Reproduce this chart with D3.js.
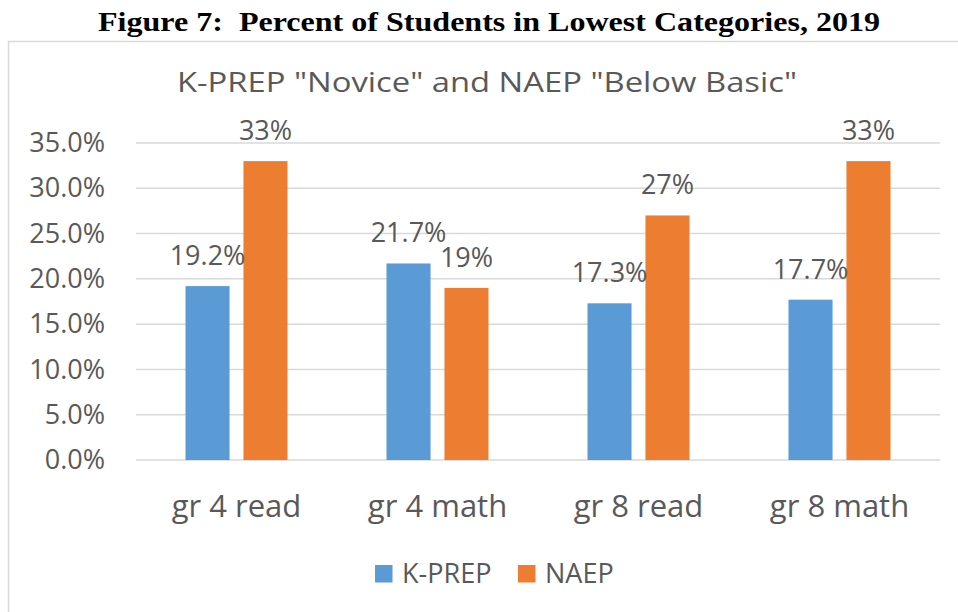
<!DOCTYPE html>
<html>
<head>
<meta charset="utf-8">
<script src="https://cdn.jsdelivr.net/npm/d3@7"></script>
<style>
  body { margin: 0; background: #fff; }
  svg text { font-family: "Open Sans", sans-serif; fill: #595959; }
</style>
</head>
<body>
<div id="chart"></div>
<script>
const categories = ["gr 4 read", "gr 4 math", "gr 8 read", "gr 8 math"];
const seriesNames = ["K-PREP", "NAEP"];
const kprep = [19.2, 21.7, 17.3, 17.7];
const naep = [33, 19, 27, 33];
const kprepLabels = ["19.2%", "21.7%", "17.3%", "17.7%"];
const naepLabels = ["33%", "19%", "27%", "33%"];
const yTicks = [0, 5, 10, 15, 20, 25, 30, 35];

const colors = { "K-PREP": "#5b9bd5", "NAEP": "#ed7d31" };

const width = 958, height = 612;
const margin = { top: 143, right: 18, bottom: 152, left: 136 };
const w = width - margin.left - margin.right;
const h = height - margin.top - margin.bottom;

const svg = d3.select("#chart").append("svg")
  .attr("width", width)
  .attr("height", height);

// outer frame of the chart object
svg.append("rect")
  .attr("x", 8.5).attr("y", 41.5)
  .attr("width", 1000).attr("height", 700)
  .attr("fill", "none")
  .attr("stroke", "#d9d9d9")
  .attr("stroke-width", 1.5);

// figure caption (the source picture is a bit stretched sideways)
svg.append("text")
  .attr("x", 98).attr("y", 31)
  .attr("textLength", 782)
  .attr("lengthAdjust", "spacingAndGlyphs")
  .style("white-space", "pre")
  .style("font-family", "'Liberation Serif', 'Times New Roman', serif")
  .style("font-weight", "bold")
  .style("font-size", "27px")
  .style("fill", "#000")
  .text("Figure 7:  Percent of Students in Lowest Categories, 2019");

// chart title
svg.append("text")
  .attr("x", 177).attr("y", 92)
  .attr("textLength", 620)
  .attr("lengthAdjust", "spacingAndGlyphs")
  .style("font-size", "28px")
  .text('K-PREP "Novice" and NAEP "Below Basic"');

const g = svg.append("g")
  .attr("transform", "translate(" + margin.left + "," + margin.top + ")");

const y = d3.scaleLinear().domain([0, 35]).range([h, 0]);

const x0 = d3.scaleBand().domain(categories).range([0, w]).paddingInner(0).paddingOuter(0);
const x1 = d3.scaleBand().domain(seriesNames).range([0, 102]).paddingInner(0.24);

// gridlines
g.append("g")
  .selectAll("line")
  .data(yTicks)
  .join("line")
  .attr("x1", 0).attr("x2", w)
  .attr("y1", d => y(d)).attr("y2", d => y(d))
  .attr("stroke", "#d9d9d9")
  .attr("stroke-width", 1.5);

// y axis labels
const yAxis = g.append("g")
  .call(d3.axisLeft(y).tickValues(yTicks).tickFormat(d => d.toFixed(1) + "%").tickSize(0).tickPadding(31));
yAxis.select(".domain").remove();
yAxis.selectAll("text")
  .style("font-size", "27px")
  .style("font-family", "'Open Sans', sans-serif")
  .attr("fill", "#595959");

// x axis labels
const xAxis = g.append("g")
  .attr("transform", "translate(0," + h + ")")
  .call(d3.axisBottom(x0).tickSize(0).tickPadding(57));
xAxis.select(".domain").remove();
xAxis.selectAll("text")
  .attr("dy", 0)
  .style("font-size", "31px")
  .style("font-family", "'Open Sans', sans-serif")
  .attr("fill", "#595959");

const rows = categories.map((c, i) => ({
  cat: c,
  vals: [
    { key: "K-PREP", v: kprep[i], label: kprepLabels[i] },
    { key: "NAEP", v: naep[i], label: naepLabels[i] }
  ]
}));

const groups = g.selectAll(".grp")
  .data(rows)
  .join("g")
  .attr("class", "grp")
  .attr("transform", d => "translate(" + (x0(d.cat) + x0.bandwidth() / 2 - 51) + ",0)");

groups.selectAll("rect")
  .data(d => d.vals)
  .join("rect")
  .attr("x", d => x1(d.key))
  .attr("width", x1.bandwidth())
  .attr("y", d => y(d.v))
  .attr("height", d => h - y(d.v))
  .attr("fill", d => colors[d.key]);

groups.selectAll(".lbl")
  .data(d => d.vals)
  .join("text")
  .attr("class", "lbl")
  .attr("x", d => x1(d.key) + x1.bandwidth() / 2)
  .attr("y", d => y(d.v) - 21)
  .attr("text-anchor", "middle")
  .style("font-size", "27px")
  .text(d => d.label);

// legend
const legend = svg.append("g").attr("transform", "translate(375,565)");
const legendX = [0, 143];
seriesNames.forEach((s, i) => {
  const lg = legend.append("g").attr("transform", "translate(" + legendX[i] + ",0)");
  lg.append("rect").attr("width", 17.5).attr("height", 17.5).attr("fill", colors[s]);
  lg.append("text").attr("x", 27).attr("y", 18).style("font-size", "27px").text(s);
});
</script>
</body>
</html>
